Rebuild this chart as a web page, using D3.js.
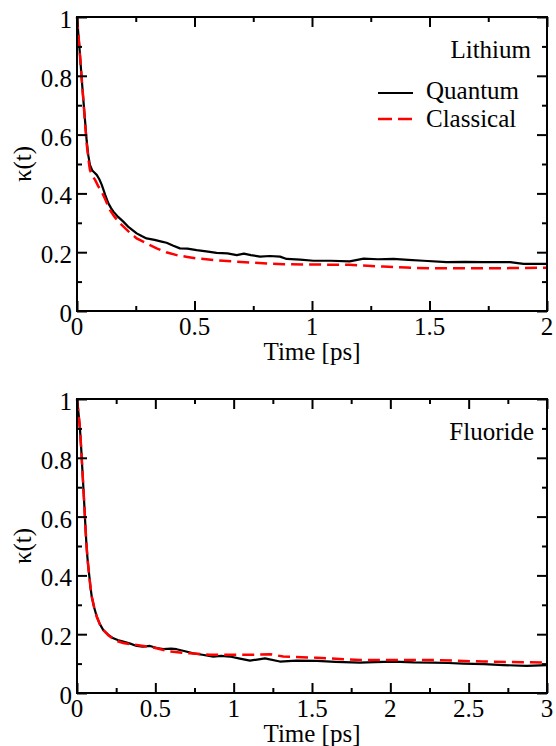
<!DOCTYPE html>
<html><head><meta charset="utf-8">
<script src="https://cdn.jsdelivr.net/npm/d3@7"></script>
</head><body style="margin:0">
<script>
// ---- Data (Time in ps, kappa(t)) ----
const liQuantumT = [0,0.01,0.02,0.027,0.035,0.041,0.048,0.055,0.065,0.075,0.084,0.095,0.105,0.12,0.133,0.145,0.155,0.175,0.197,0.22,0.254,0.275,0.296,0.33,0.36,0.381,0.41,0.438,0.47,0.509,0.55,0.594,0.64,0.68,0.71,0.74,0.779,0.82,0.864,0.892,0.95,1.006,1.08,1.16,1.22,1.28,1.346,1.41,1.474,1.573,1.65,1.73,1.843,1.9,2.0];
const liQuantumK = [1,0.9,0.79,0.718,0.64,0.58,0.53,0.497,0.478,0.47,0.463,0.448,0.43,0.395,0.367,0.35,0.338,0.32,0.304,0.285,0.264,0.255,0.247,0.242,0.236,0.232,0.222,0.213,0.212,0.207,0.203,0.198,0.196,0.19,0.195,0.19,0.185,0.187,0.185,0.177,0.175,0.171,0.171,0.169,0.178,0.176,0.177,0.174,0.171,0.166,0.167,0.166,0.166,0.16,0.16];
const liClassicalT = [0,0.01,0.02,0.027,0.035,0.041,0.048,0.055,0.065,0.077,0.09,0.105,0.12,0.14,0.16,0.183,0.22,0.254,0.3,0.339,0.38,0.424,0.47,0.509,0.56,0.622,0.68,0.736,0.82,0.878,1.0,1.16,1.304,1.4,1.502,1.6,1.73,1.85,1.98,2.0];
const liClassicalK = [1,0.9,0.79,0.718,0.63,0.57,0.52,0.48,0.46,0.446,0.425,0.406,0.38,0.344,0.32,0.298,0.27,0.247,0.228,0.213,0.2,0.19,0.184,0.179,0.175,0.171,0.168,0.165,0.161,0.159,0.158,0.157,0.151,0.148,0.145,0.145,0.145,0.146,0.147,0.147];
const fQuantumT = [0,0.01,0.019,0.027,0.034,0.04,0.045,0.05,0.055,0.06,0.066,0.072,0.079,0.086,0.094,0.11,0.126,0.145,0.168,0.2,0.232,0.26,0.295,0.34,0.381,0.42,0.466,0.51,0.551,0.6,0.636,0.69,0.742,0.8,0.87,0.92,0.976,1.04,1.104,1.2,1.295,1.4,1.53,1.65,1.806,1.9,2.02,2.15,2.27,2.37,2.465,2.6,2.72,2.87,3.0];
const fQuantumK = [1,0.95,0.898,0.83,0.762,0.705,0.656,0.605,0.554,0.508,0.464,0.43,0.396,0.36,0.328,0.29,0.26,0.235,0.214,0.198,0.186,0.18,0.175,0.168,0.16,0.158,0.16,0.153,0.149,0.151,0.149,0.142,0.135,0.13,0.124,0.126,0.124,0.117,0.11,0.118,0.107,0.11,0.109,0.106,0.103,0.105,0.107,0.104,0.103,0.102,0.1,0.098,0.095,0.092,0.095];
const fClassicalT = [0,0.01,0.019,0.027,0.034,0.04,0.045,0.05,0.055,0.06,0.066,0.072,0.079,0.086,0.094,0.11,0.126,0.145,0.168,0.2,0.232,0.26,0.295,0.34,0.381,0.487,0.593,0.721,0.849,0.976,1.104,1.232,1.316,1.53,1.806,2.083,2.3,2.59,2.85,3.0];
const fClassicalK = [1,0.95,0.898,0.83,0.762,0.705,0.656,0.605,0.554,0.508,0.464,0.43,0.396,0.36,0.328,0.29,0.26,0.235,0.214,0.196,0.184,0.176,0.17,0.166,0.163,0.155,0.141,0.135,0.13,0.13,0.13,0.132,0.124,0.12,0.112,0.112,0.112,0.107,0.105,0.103];

const yTicks = [0,0.2,0.4,0.6,0.8,1];
const yMinor = [0.1,0.3,0.5,0.7,0.9];
const seriesNames = ["Quantum","Classical"];
const panels = [
  {name:"Lithium", top:17, xMax:2, xTicks:[0,0.5,1,1.5,2], xMinor:[0.25,0.75,1.25,1.75], qT:liQuantumT, qK:liQuantumK, cT:liClassicalT, cK:liClassicalK, labelY:58, labelX:531, legend:true},
  {name:"Fluoride", top:399, xMax:3, xTicks:[0,0.5,1,1.5,2,2.5,3], xMinor:[0.25,0.75,1.25,1.75,2.25,2.75], qT:fQuantumT, qK:fQuantumK, cT:fClassicalT, cK:fClassicalK, labelY:440, labelX:534, legend:false}
];

const W = 556, H = 746;
const left = 77, right = 547, ph = 294;
const fs = 25;

const svg = d3.select("body").append("svg").attr("width",W).attr("height",H).style("display","block");

function txt(sel, x, y, s, anchor) {
  return sel.append("text").attr("x",x).attr("y",y).attr("font-size",fs)
    .attr("text-anchor",anchor||"start").style("font-family",'"Liberation Serif"').text(s);
}

panels.forEach(p => {
  const x = d3.scaleLinear().domain([0,p.xMax]).range([left,right]);
  const y = d3.scaleLinear().domain([0,1]).range([p.top+ph,p.top]);
  const g = svg.append("g");

  const line = d3.line().x(d=>x(d[0])).y(d=>y(d[1]));
  const cData = p.cT.map((t,i)=>[t,p.cK[i]]);
  const qData = p.qT.map((t,i)=>[t,p.qK[i]]);
  g.append("path").datum(qData).attr("d",line).attr("fill","none")
    .attr("stroke","#000").attr("stroke-width",2.2).attr("stroke-linejoin","round");
  g.append("path").datum(cData).attr("d",line).attr("fill","none")
    .attr("stroke","#ff0000").attr("stroke-width",2.5).attr("stroke-dasharray","12,6");

  const mk = (axis, tr, vals, size) => {
    const a = g.append("g").attr("transform",tr)
      .call(axis.tickValues(vals).tickSize(size).tickFormat(""));
    a.select(".domain").remove();
    a.selectAll("text").remove();
    a.selectAll("line").attr("stroke","#000").attr("stroke-width",2);
    return a;
  };
  mk(d3.axisBottom(x), `translate(0,${p.top+ph})`, p.xTicks, -10);
  mk(d3.axisBottom(x), `translate(0,${p.top+ph})`, p.xMinor, -5);
  mk(d3.axisTop(x), `translate(0,${p.top})`, p.xTicks, -10);
  mk(d3.axisTop(x), `translate(0,${p.top})`, p.xMinor, -5);
  mk(d3.axisLeft(y), `translate(${left},0)`, yTicks, -10);
  mk(d3.axisLeft(y), `translate(${left},0)`, yMinor, -5);
  mk(d3.axisRight(y), `translate(${right},0)`, yTicks, -10);
  mk(d3.axisRight(y), `translate(${right},0)`, yMinor, -5);

  // tick labels
  p.xTicks.forEach(v => txt(g, x(v), p.top+ph+23.5, String(v), "middle"));
  yTicks.forEach(v => txt(g, left-5, y(v)+11, String(v), "end"));

  g.append("rect").attr("x",left).attr("y",p.top).attr("width",right-left).attr("height",ph)
    .attr("fill","none").attr("stroke","#000").attr("stroke-width",2);

  txt(g, (left+right)/2, p.top+ph+49, "Time [ps]", "middle");
  txt(g, 0, 0, "κ(t)", "middle").attr("transform",`translate(31,${p.top+ph/2}) rotate(-90)`);
  txt(g, p.labelX, p.labelY, p.name, "end");

  if (p.legend) {
    const rows = [{n:seriesNames[0],c:"#000",d:null,w:2.2,y:93,ty:99},{n:seriesNames[1],c:"#ff0000",d:"14,6",w:2.5,y:119,ty:127}];
    rows.forEach(r=>{
      g.append("line").attr("x1",378).attr("x2",413).attr("y1",r.y).attr("y2",r.y)
        .attr("stroke",r.c).attr("stroke-width",r.w).attr("stroke-dasharray",r.d);
      txt(g, 426, r.ty, r.n, "start");
    });
  }
});
</script>
</body></html>
